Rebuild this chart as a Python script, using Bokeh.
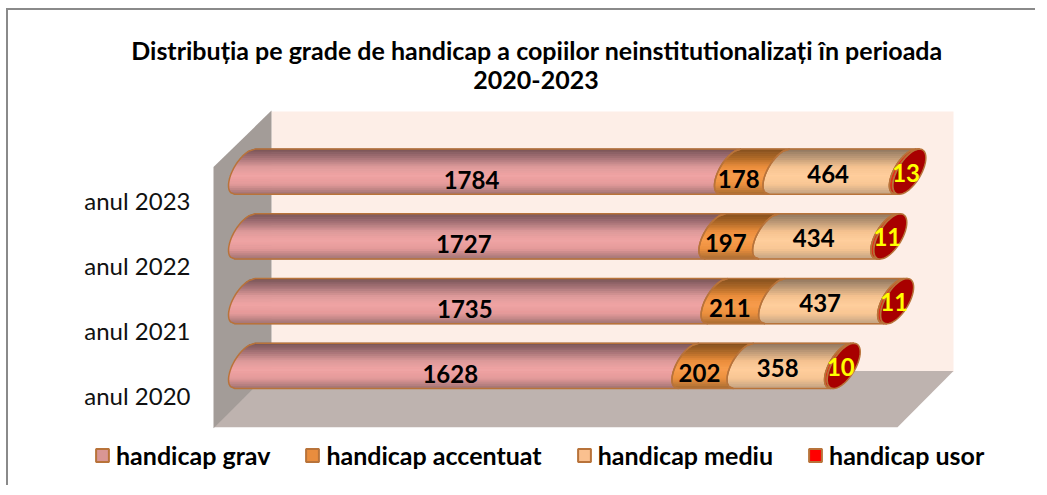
import math
from bokeh.embed import file_html
from bokeh.resources import INLINE
from bokeh.plotting import figure
from bokeh.models import Range1d, FixedTicker, Legend, LegendItem, ColumnDataSource, Title
from bokeh.core.properties import value

# ---------- data ----------
years = ["anul 2020", "anul 2021", "anul 2022", "anul 2023"]
series = ["handicap grav", "handicap accentuat", "handicap mediu", "handicap usor"]
grav = [1628, 1735, 1727, 1784]
accentuat = [202, 211, 197, 178]
mediu = [358, 437, 434, 464]
usor = [10, 11, 11, 13]
title_line1 = "Distribuția pe grade de handicap a copiilor neinstitutionalizați în perioada"
title_line2 = "2020-2023"

# ---------- geometry (page pixels) ----------
FRAME_TOP = 90
FRAME_BOTTOM = 487
FRAME_LEFT = 9
PAGE_W, PAGE_H = 1029, 477
PX_PER_UNIT = 0.2724
PX_PER_ROW = 64.4
X_ZERO = 229
Y_ZERO = 395
def X(px): return (px - X_ZERO) / PX_PER_UNIT
def Y(py): return (Y_ZERO - py) / PX_PER_ROW

p = figure(width=PAGE_W, height=PAGE_H, output_backend="svg",
           toolbar_location=None, x_range=Range1d(X(FRAME_LEFT), X(FRAME_LEFT + PAGE_W)),
           y_range=Range1d(Y(FRAME_BOTTOM), Y(FRAME_TOP)), min_border=0, margin=(8, 0, 0, 6),
           background_fill_color="white", border_fill_color="white", outline_line_color=None,
           styles={"border-top": "2px solid #8a8a8a", "border-left": "2px solid #8a8a8a"})
p.grid.visible = False
p.xaxis.visible = False

# title (two centred lines plus a blank line above)
def title_part(text, size="25px", standoff=0, left=0):
    return Title(text=text, align="center", text_font="Lato", text_font_size=size,
                 text_font_style="bold", text_color="black", standoff=standoff,
                 padding=(left, 0, 0, 0))
p.title = None
p.add_layout(title_part(title_line2, left=26), "above")
p.add_layout(title_part(title_line1, standoff=7, left=28), "above")
p.add_layout(title_part(" ", "14px"), "above")

# y axis
ax = p.yaxis[0]
ax.ticker = FixedTicker(ticks=list(range(len(years))))
ax.major_label_overrides = {i: y for i, y in enumerate(years)}
ax.fixed_location = X(197)
ax.axis_line_color = None
ax.major_tick_line_color = None
ax.minor_tick_line_color = None
ax.major_label_standoff = 0
ax.major_label_text_font = "Lato"
ax.major_label_text_font_size = "24px"
ax.major_label_text_color = "#111111"

# 3D walls
p.patch([X(272), X(954), X(954), X(272)], [Y(113), Y(113), Y(372), Y(372)], fill_color="#FDEEE7", line_color=None)
p.patch([X(272), X(954), X(898), X(214)], [Y(371), Y(371), Y(427), Y(427)], fill_color="#BEB3AF", line_color=None)
p.patch([X(214), X(272), X(272), X(214)], [Y(168), Y(112), Y(371), Y(428)], fill_color="#A39C98", line_color=None)

# cylinder geometry
R_Y = 22.5
R_X = 16.5
PHI = math.radians(38)
N = 24
BAR_SHIFT = (Y_ZERO - 366) / PX_PER_ROW

def curve_dx(s):
    th = math.pi - math.asin(s) - PHI
    return (R_X + R_X * math.cos(th)) / PX_PER_UNIT

def lerp(stops, t):
    n = len(stops) - 1
    i = min(int(t * n), n - 1)
    f = t * n - i
    a, b = stops[i], stops[i + 1]
    c = [round(int(a[j:j+2], 16) * (1 - f) + int(b[j:j+2], 16) * f) for j in (1, 3, 5)]
    return "#%02x%02x%02x" % tuple(c)

stops = [
    ["#7A5558", "#A87478", "#DD9A9A", "#F0A4A4", "#E49A9A", "#A87878"],
    ["#85501F", "#B06A28", "#EC8E3C", "#F79C4C", "#EC903E", "#B07034"],
    ["#917760", "#C09C78", "#F5C290", "#FFCE9C", "#F8C694", "#C8A684"],
    ["#C03018", "#E03018", "#E83018", "#E83018", "#E03018", "#C03018"],
]
OUTLINE = "#B8733A"
values = [grav, accentuat, mediu, usor]

xs, ys, colors = [], [], []
ox, oy = [], []
for row in range(len(years)):
    yc = row + BAR_SHIFT
    start = 0
    for k, vals in enumerate(values):
        end = start + vals[row]
        sv = [1 - 2 * j / N for j in range(N + 1)]
        for j in range(N):
            s1, s2 = sv[j], sv[j + 1]
            y1, y2 = yc + s1 * R_Y / PX_PER_ROW, yc + s2 * R_Y / PX_PER_ROW
            xs.append([start + curve_dx(s1), end + curve_dx(s1), end + curve_dx(s2), start + curve_dx(s2)])
            ys.append([y1, y1, y2, y2])
            colors.append(lerp(stops[k], j / (N - 1)))
        left = [start + curve_dx(s) for s in sv]
        right = [end + curve_dx(s) for s in sv]
        yy = [yc + s * R_Y / PX_PER_ROW for s in sv]
        ox.append(left + right[::-1] + [left[0]])
        oy.append(yy + yy[::-1] + [yy[0]])
        start = end

p.patches(xs, ys, fill_color=colors, line_color=colors, line_width=1)
p.multi_line(ox, oy, line_color=OUTLINE, line_width=1.5)

# end caps
cx, cy = [], []
for row in range(len(years)):
    total = sum(v[row] for v in values)
    yc = row + BAR_SHIFT
    M = 48
    cx.append([total + (R_X + R_X * math.cos(2 * math.pi * a / M)) / PX_PER_UNIT for a in range(M)])
    cy.append([yc + R_Y * math.sin(2 * math.pi * a / M + PHI) / PX_PER_ROW for a in range(M)])
p.patches(cx, cy, fill_color="#A80000", line_color=OUTLINE, line_width=1.5)

# data labels
OFFS = [8, 7, 2, 1]
DX = [0, 0, 2, 15]
for k, vals in enumerate(values):
    cum = [sum(values[m][r] for m in range(k)) for r in range(len(years))]
    src = ColumnDataSource(dict(
        x=[c + v / 2 for c, v in zip(cum, vals)],
        y=[r + BAR_SHIFT for r in range(len(years))],
        t=[str(v) for v in vals]))
    p.text("x", "y", text="t", source=src, x_offset=DX[k], y_offset=OFFS[k], text_align="center",
           text_baseline="middle", text_font=value("Lato"), text_font_style="bold",
           text_font_size="24px", text_color="#FFFF00" if k == 3 else "black")

# legend
swatch = ["#D99694", "#E98D3E", "#FAC08F", "#FF0000"]
items = []
nan = float("nan")
for name, col in zip(series, swatch):
    r = p.quad(left=[nan], right=[nan], top=[nan], bottom=[nan], fill_color=col, line_color=OUTLINE, line_width=2)
    items.append(LegendItem(label=name, renderers=[r]))
leg = Legend(items=items, orientation="horizontal", location=(86, 17), border_line_color=None,
             background_fill_alpha=0, padding=0, margin=0, spacing=34, label_standoff=6,
             glyph_width=16, glyph_height=16, label_text_font="Lato", label_text_font_style="bold",
             label_text_font_size="25px", label_text_color="black")
p.add_layout(leg)

open("out.html", "w").write(file_html(p, INLINE))
